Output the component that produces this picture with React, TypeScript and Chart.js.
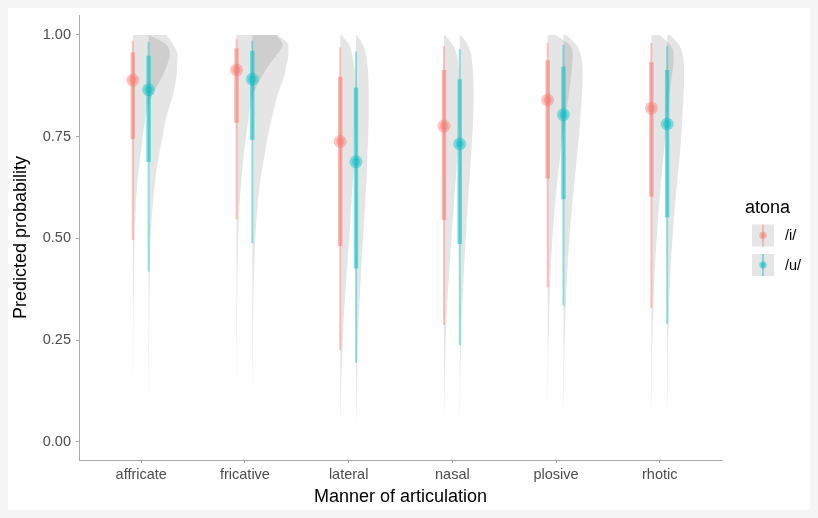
import { useEffect, useRef } from 'react';
import { Chart, registerables } from 'chart.js';

Chart.register(...registerables);

const FONT = '"Liberation Sans", Arial, Helvetica, sans-serif';

// Manner of articulation categories and y tick labels
const categories = ['affricate', 'fricative', 'lateral', 'nasal', 'plosive', 'rhotic'];
const yTicks = [0, 0.25, 0.5, 0.75, 1];

// Posterior medians of predicted probability
const iMedian = [0.889, 0.914, 0.738, 0.776, 0.84, 0.82];
const uMedian = [0.865, 0.891, 0.688, 0.732, 0.804, 0.781];

// 66% credible intervals
const iLow66 = [0.744, 0.784, 0.481, 0.545, 0.647, 0.602];
const iHigh66 = [0.957, 0.967, 0.897, 0.914, 0.938, 0.933];
const uLow66 = [0.688, 0.742, 0.426, 0.486, 0.596, 0.552];
const uHigh66 = [0.949, 0.961, 0.871, 0.891, 0.922, 0.914];

// 95% credible intervals
const iLow95 = [0.496, 0.547, 0.225, 0.287, 0.379, 0.328];
const iHigh95 = [0.986, 0.99, 0.969, 0.973, 0.981, 0.98];
const uLow95 = [0.418, 0.488, 0.194, 0.238, 0.334, 0.289];
const uHigh95 = [0.983, 0.986, 0.959, 0.965, 0.975, 0.973];

// Probability values at which the posterior densities are evaluated
const densityGrid = [1.0, 0.975, 0.95, 0.925, 0.9, 0.85, 0.8, 0.75, 0.7, 0.65, 0.6, 0.5, 0.4, 0.3, 0.2, 0.1, 0.05];

// Relative posterior density for /i/, one row per category
const iDensity = [
  [16, 34, 37, 34, 30, 19, 13, 10, 7.5, 5, 3.5, 1.8, 1, 0.6, 0.3, 0.1, 0],
  [40, 46, 40, 32, 26, 16, 12.5, 9.5, 7, 5, 3.5, 1.7, 0.9, 0.5, 0.25, 0.1, 0],
  [1, 9, 12, 14, 15, 15.5, 15.5, 15, 14, 13, 11.5, 9, 6, 3.5, 1.8, 0.5, 0.2],
  [1, 9, 13, 14.5, 15, 15.5, 15, 14.5, 13.5, 12, 10.5, 7.5, 4.8, 2.5, 1.2, 0.4, 0.1],
  [8, 22, 25, 24.5, 23.5, 21, 18, 15, 12.5, 10, 8, 4.8, 2.7, 1.3, 0.6, 0.2, 0],
  [8, 19, 22.3, 22, 20.5, 18, 16, 14, 12, 10, 8.3, 5.3, 3, 1.5, 0.7, 0.3, 0.1],
];

// Relative posterior density for /u/, one row per category
const uDensity = [
  [18, 25, 29, 28.5, 28, 24, 18, 14, 10, 7, 4.8, 2, 1.2, 0.7, 0.35, 0.15, 0],
  [25, 36, 36, 34, 32, 25, 20, 15.5, 12, 8.5, 6, 3, 1.6, 0.8, 0.4, 0.1, 0],
  [1, 7, 10, 11.5, 12.3, 12.7, 12.7, 12.2, 11.3, 10.5, 9.5, 7, 4.7, 2.8, 1.4, 0.6, 0.2],
  [1, 8, 11.5, 12.7, 13.5, 14, 13.5, 12.5, 11.3, 10, 8.5, 6, 3.8, 2, 0.9, 0.4, 0.1],
  [3, 13, 17.5, 19, 19.3, 18.5, 17, 15.5, 13.5, 11.5, 9.5, 6, 3.5, 1.8, 0.8, 0.3, 0.1],
  [3, 12, 15.5, 17, 17, 16.3, 15.3, 14, 12.5, 10.5, 8.5, 5.3, 3, 1.5, 0.7, 0.3, 0.1],
];

// Dodge offsets (in category units) and widest slab width
const I_OFFSET = -0.081;
const U_OFFSET = 0.071;
const SLAB_WIDTH = 0.444;

const groups = [
  { name: '/i/', rgb: '248,118,109', offset: I_OFFSET, median: iMedian, lo66: iLow66, hi66: iHigh66, lo95: iLow95, hi95: iHigh95, density: iDensity },
  { name: '/u/', rgb: '0,191,196', offset: U_OFFSET, median: uMedian, lo66: uLow66, hi66: uHigh66, lo95: uLow95, hi95: uHigh95, density: uDensity },
];

const maxDensity = Math.max(...[...iDensity, ...uDensity].flat());

function buildDatasets() {
  const datasets: any[] = [];
  groups.forEach((g) => {
    categories.forEach((_, k) => {
      const base = k + 1 + g.offset;
      // half-eye density slab, extending to the right of the interval
      datasets.push({
        data: densityGrid.map((v, j) => ({ x: base + (g.density[k][j] / maxDensity) * SLAB_WIDTH, y: v })),
        fill: { value: base },
        backgroundColor: 'rgba(0,0,0,0.1)',
        borderColor: 'rgba(0,0,0,0)',
        borderWidth: 0,
        pointRadius: 0,
        cubicInterpolationMode: 'monotone',
        order: 6,
      });
      // 95% interval
      datasets.push({
        data: [{ x: base, y: g.lo95[k] }, { x: base, y: g.hi95[k] }],
        borderColor: `rgba(${g.rgb},0.42)`,
        borderWidth: 2,
        borderCapStyle: 'butt',
        pointRadius: 0,
        fill: false,
        order: 4,
      });
      // 66% interval
      datasets.push({
        data: [{ x: base, y: g.lo66[k] }, { x: base, y: g.hi66[k] }],
        borderColor: `rgba(${g.rgb},0.5)`,
        borderWidth: 4.5,
        borderCapStyle: 'butt',
        pointRadius: 0,
        fill: false,
        order: 3,
      });
    });
    const medians = categories.map((_, k) => ({ x: k + 1 + g.offset, y: g.median[k] }));
    datasets.push({
      data: medians,
      showLine: false,
      pointRadius: 6.5,
      pointBorderWidth: 0,
      pointBackgroundColor: `rgba(${g.rgb},0.42)`,
      pointBorderColor: 'rgba(0,0,0,0)',
      fill: false,
      order: 2,
    });
    datasets.push({
      data: medians,
      showLine: false,
      pointRadius: 4,
      pointBorderWidth: 0,
      pointBackgroundColor: `rgba(${g.rgb},0.4)`,
      pointBorderColor: 'rgba(0,0,0,0)',
      fill: false,
      order: 1,
    });
  });
  return datasets;
}

// Legend for the vowel groups, drawn to the right of the panel
const atonaLegend = {
  id: 'atonaLegend',
  afterDraw(chart: any) {
    const ctx = chart.ctx as CanvasRenderingContext2D;
    const left = chart.chartArea.right + 23;
    ctx.save();
    ctx.fillStyle = '#000';
    ctx.font = `18px ${FONT}`;
    ctx.textBaseline = 'alphabetic';
    ctx.textAlign = 'left';
    ctx.fillText('atona', left, 205);
    const size = 22;
    const tops = [216.5, 246];
    groups.forEach((g, i) => {
      const top = tops[i];
      ctx.fillStyle = '#e6e6e6';
      ctx.fillRect(left + 7, top, size, size);
      const cx = left + 7 + size / 2;
      const cy = top + size / 2;
      ctx.strokeStyle = `rgba(${g.rgb},0.42)`;
      ctx.lineWidth = 2;
      ctx.beginPath();
      ctx.moveTo(cx, top);
      ctx.lineTo(cx, top + size);
      ctx.stroke();
      ctx.fillStyle = `rgba(${g.rgb},0.42)`;
      ctx.beginPath();
      ctx.arc(cx, cy, 3.8, 0, Math.PI * 2);
      ctx.fill();
      ctx.beginPath();
      ctx.arc(cx, cy, 2.3, 0, Math.PI * 2);
      ctx.fill();
      ctx.fillStyle = '#000';
      ctx.font = `14.5px ${FONT}`;
      ctx.textBaseline = 'middle';
      ctx.fillText(g.name, left + 40, cy + 0.5);
    });
    ctx.restore();
  },
};

export default function App() {
  const canvasRef = useRef<HTMLCanvasElement>(null);

  useEffect(() => {
    document.body.style.background = '#f5f5f5';
    const canvas = canvasRef.current;
    if (!canvas) return;
    const axisGrey = '#ababab';
    const chart = new Chart(canvas, {
      type: 'line',
      data: { datasets: buildDatasets() },
      plugins: [atonaLegend],
      options: {
        animation: false,
        responsive: false,
        devicePixelRatio: 1,
        indexAxis: 'y',
        events: [],
        layout: { padding: { left: 0, top: 7, right: 88, bottom: 0 } },
        plugins: { legend: { display: false }, tooltip: { enabled: false } },
        scales: {
          x: {
            type: 'linear',
            min: 0.4,
            max: 6.6,
            afterBuildTicks: (scale: any) => {
              scale.ticks = categories.map((_, k) => ({ value: k + 1 }));
            },
            afterFit: (scale: any) => {
              scale.height = 50;
              scale.paddingLeft = 0;
              scale.paddingRight = 0;
            },
            ticks: {
              autoSkip: false,
              maxRotation: 0,
              padding: 3,
              color: '#4d4d4d',
              font: { family: FONT, size: 14.5 },
              callback: (v: any) => categories[Math.round(Number(v)) - 1] ?? '',
            },
            grid: { display: true, drawOnChartArea: false, drawTicks: true, tickLength: 3, color: axisGrey },
            border: { display: true, color: axisGrey, width: 1 },
            title: {
              display: true,
              text: 'Manner of articulation',
              color: '#000',
              font: { family: FONT, size: 18 },
              padding: { top: 0, bottom: 2 },
            },
          },
          y: {
            type: 'linear',
            min: -0.045,
            max: 1.049,
            afterBuildTicks: (scale: any) => {
              scale.ticks = yTicks.map((v) => ({ value: v }));
            },
            afterFit: (scale: any) => {
              scale.width = 71;
              scale.paddingTop = 0;
              scale.paddingBottom = 0;
            },
            ticks: {
              padding: 5,
              color: '#4d4d4d',
              font: { family: FONT, size: 14.5 },
              callback: (v: any) => Number(v).toFixed(2),
            },
            grid: { display: true, drawOnChartArea: false, drawTicks: true, tickLength: 3, color: axisGrey },
            border: { display: true, color: axisGrey, width: 1 },
            title: {
              display: true,
              text: 'Predicted probability',
              color: '#000',
              font: { family: FONT, size: 18 },
              padding: { top: 2, bottom: 0 },
            },
          },
        },
      } as any,
    });
    return () => chart.destroy();
  }, []);

  return (
    <div style={{ width: 802, height: 502, background: '#ffffff', position: 'relative' }}>
      <canvas ref={canvasRef} width={802} height={502} style={{ width: 802, height: 502, display: 'block' }} />
    </div>
  );
}
